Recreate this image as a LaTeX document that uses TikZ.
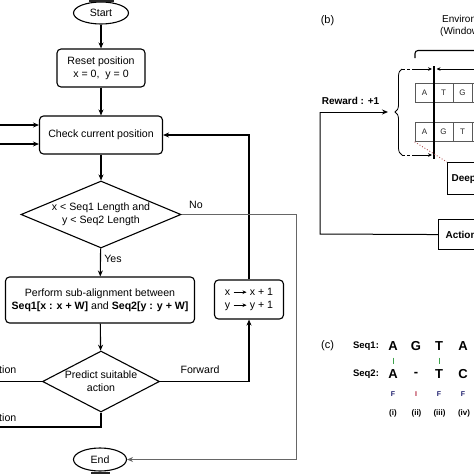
\documentclass[tikz,border=0pt]{standalone}
\usepackage{fontspec}
\setmainfont{Liberation Sans}
\usetikzlibrary{shapes.geometric,arrows.meta,decorations.pathreplacing}
\definecolor{navyF}{HTML}{1F1F6E}
\definecolor{redI}{HTML}{B0203A}
\definecolor{greenbar}{HTML}{3FA34D}
\definecolor{dotred}{HTML}{B05050}
\begin{document}
\begin{tikzpicture}[x=1pt,y=-1pt,
  fmain/.style={font=\fontsize{10.6}{13}\selectfont},
  flowbox/.style={draw, line width=1.1pt, rounded corners=4pt, inner sep=0pt, align=center, fmain},
  term/.style={draw, ellipse, line width=1.1pt, inner sep=0pt, fmain},
  dec/.style={draw, diamond, line width=1.1pt, inner sep=0pt},
  conn/.style={line width=1.1pt},
  arr/.style={conn, -{Stealth[length=6pt,width=5pt]}},
  grayconn/.style={line width=0.9pt, draw=black!60},
  lbl/.style={fmain, inner sep=0pt},
  cell/.style={draw=black!65, line width=0.7pt, minimum width=19pt, minimum height=19pt, inner sep=0pt, font=\fontsize{8}{9}\selectfont, text=black!85},
  pbox/.style={draw, line width=1.1pt, inner ysep=0pt, anchor=north west, font=\fontsize{10}{12}\selectfont\bfseries, align=left},
  bigl/.style={font=\fontsize{13}{14}\selectfont\bfseries, inner sep=0pt},
  smallb/.style={font=\fontsize{9.5}{11}\selectfont\bfseries, inner sep=0pt},
  tagl/.style={font=\fontsize{7}{8}\selectfont\bfseries, inner sep=0pt},
  numl/.style={font=\fontsize{8}{9}\selectfont\bfseries, inner sep=0pt},
  inarr/.style={-{Stealth[length=4pt,width=3.6pt]}, line width=0.7pt}
]
\useasboundingbox (0,0) rectangle (474,474);
\clip (0,0) rectangle (474,474);

% ---------- panel (a) flowchart ----------
\node[term, minimum width=55pt, minimum height=22pt] (start) at (101,13) {Start};
\node[flowbox, minimum width=88pt, minimum height=38pt] (reset) at (101,68) {Reset position\\x = 0,\ \ y = 0};
\node[flowbox, minimum width=123pt, minimum height=38pt] (check) at (101,135) {Check current position};
\node[dec, minimum width=160pt, minimum height=67pt] (d1) at (101,214.5) {};
\node[lbl, align=center] (d1t) at (d1.center) {x < Seq1 Length and\\y < Seq2 Length};
\node[flowbox, minimum width=189pt, minimum height=46pt] (perf) at (100,300) {Perform sub-alignment between\\\textbf{Seq1[x : x + W]} and \textbf{Seq2[y : y + W]}};
\node[dec, minimum width=117pt, minimum height=61pt] (d2) at (101,381.5) {};
\node[lbl, align=center] (d2t) at (d2.center) {Predict suitable\\action};
\node[term, minimum width=53pt, minimum height=23pt] (end) at (100,459.5) {End};
\node[flowbox, minimum width=69pt, minimum height=39pt] (inc) at (249,299.5) {x \tikz[baseline=-0.6ex]\draw[inarr] (0pt,0pt) -- (13pt,0pt); x + 1\\y \tikz[baseline=-0.6ex]\draw[inarr] (0pt,0pt) -- (13pt,0pt); y + 1};

\draw[line width=2.5pt, black!85] (89,1.2) -- (114,1.2);
\draw[line width=2.5pt, black!85] (91,472.8) -- (110,472.8);

\draw[arr] (start) -- (reset);
\draw[arr] (reset) -- (check);
\draw[arr] (check) -- (d1);
\draw[arr] (d1) -- (perf);
\node[lbl] (yes) at (113,259) {Yes};
\draw[arr] (perf) -- (d2);
\draw[arr] (d2.east) -- (d2.east -| inc.south) -- (inc.south);
\node[lbl] (fwd) at (200,370) {Forward};
\draw[arr] (inc.north) |- (check.east);

\coordinate (no1) at (296,214.5);
\coordinate (no2) at (296,459.5);
\draw[grayconn, -{Stealth[length=6pt,width=5pt]}] (d1.east) -- (no1) -- (no2) -- (end.east);
\node[lbl] (nol) at (196,205) {No};

\coordinate (ins) at (-5,381.5);
\draw[conn] (d2.west) -- (ins);
\node[lbl, anchor=east] (insl) at (16.5,370) {Insertion};
\coordinate (del) at (-5,427);
\draw[conn] (d2.south) |- (del);
\node[lbl, anchor=east] (dell) at (16.5,418) {Deletion};

\coordinate (lin1) at (-5,125);
\coordinate (lin2) at (-5,144);
\draw[arr] (lin1) -- (lin1 -| check.west);
\draw[arr] (lin2) -- (lin2 -| check.west);

% ---------- panel (b) ----------
\node[font=\fontsize{11}{12}\selectfont, inner sep=0pt] (blab) at (327.5,21) {(b)};
\node[font=\fontsize{10}{12}\selectfont, inner sep=0pt, anchor=west] (env1) at (442,19) {Environment};
\node[font=\fontsize{10}{12}\selectfont, inner sep=0pt, anchor=west] (env2) at (440,32) {(Window size)};
\draw[line width=1.1pt, rounded corners=3pt] (415,58) -- (415,50.5) -- (480,50.5);

\foreach \l [count=\i] in {A,T,G,{}} \node[cell] (r1c\i) at (405.5+19*\i,92.5) {\l};
\foreach \l [count=\i] in {A,G,T,{}} \node[cell] (r2c\i) at (405.5+19*\i,132) {\l};

\draw[line width=0.8pt, decorate, decoration={brace, amplitude=7pt}] (402,155) -- (402,69);
\draw[line width=0.8pt, dashed, dash pattern=on 3pt off 2pt] (402,69) -- (415,69);
\draw[line width=0.8pt, dashed, dash pattern=on 3pt off 2pt] (402,155) -- (415,155);
\coordinate (wl) at (434,66);
\coordinate (wb) at (434,159);
\draw[line width=1.3pt] (wl) -- (wb);
\draw[inarr, line width=0.8pt] (415,69) -- (432,69);
\draw[inarr, line width=0.8pt] (415,155) -- (432,155);
\draw[inarr, line width=0.8pt] (480,69) -- (436.5,69);

\node[pbox, inner xsep=4pt, minimum height=32pt, text width=90pt] (deep) at (447,162) {Deep Q-network};
\node[pbox, inner xsep=7pt, minimum height=30pt, text width=90pt] (act) at (438,219) {Action selection};
\draw[dotted, line width=0.9pt, dotred] (r2c1.south west) -- (deep.north west);

\coordinate (rw2) at (320,234);
\coordinate (rw1) at (320,112);
\coordinate (rwtip) at (388,112);
\draw[conn, line width=1pt] (act.west) -- (rw2) -- (rw1);
\draw[arr, line width=1pt] (rw1) -- (rwtip);
\node[font=\fontsize{10}{12}\selectfont\bfseries, inner sep=0pt] (rwl) at (350.5,101) {Reward : +1};

% ---------- panel (c) ----------
\node[font=\fontsize{11}{12}\selectfont, inner sep=0pt] (clab) at (327.5,346) {(c)};
\node[smallb] (s1) at (366,346) {Seq1:};
\node[smallb] (s2) at (366,374) {Seq2:};
\node[bigl] (a1) at (393,346) {A};
\node[bigl] (a2) at (416,346) {G};
\node[bigl] (a3) at (439,346) {T};
\node[bigl] (a4) at (463,346) {A};
\node[bigl] (b1) at (393,374) {A};
\node[bigl] (b2) at (416,374) {-};
\node[bigl] (b3) at (439,374) {T};
\node[bigl] (b4) at (463,374) {C};
\draw[greenbar, line width=0.8pt] (393,357.5) -- (393,364);
\draw[greenbar, line width=0.8pt] (439,357.5) -- (439,364);
\node[tagl, text=navyF] (f1) at (393,394) {F};
\node[tagl, text=redI] (f2) at (416,394) {I};
\node[tagl, text=navyF] (f3) at (439,394) {F};
\node[tagl, text=navyF] (f4) at (463,394) {F};
\node[numl] (n1) at (393,413) {(i)};
\node[numl] (n2) at (416.5,413) {(ii)};
\node[numl] (n3) at (439.5,413) {(iii)};
\node[numl] (n4) at (464,413) {(iv)};
\end{tikzpicture}
\end{document}
